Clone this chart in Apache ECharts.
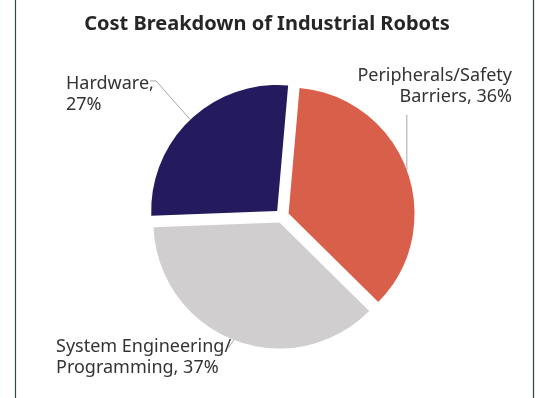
<!DOCTYPE html>
<html>
<head>
<meta charset="utf-8">
<script src="https://cdn.jsdelivr.net/npm/echarts@6/dist/echarts.min.js"></script>
<style>
  html, body { margin: 0; padding: 0; background: #fff; }
  #chart { width: 540px; height: 398px; }
</style>
</head>
<body>
<div id="chart"></div>
<script>
// slices in drawing order, clockwise from the top
const categories = ['Peripherals/Safety\nBarriers', 'System Engineering/\nProgramming', 'Hardware'];
const shares = [36, 37, 27];
const colors = ['#d85f49', '#d0cecf', '#241b5e'];

const labelSize = 18;
const labelFont = labelSize + 'px "Noto Sans"';
// label block anchors (top edge)
const labelSpots = [
  {x: 512, y: 65, align: 'right'},
  {x: 56, y: 336, align: 'left'},
  {x: 66, y: 73, align: 'left'}
];

const measure = (function () {
  const ctx = document.createElement('canvas').getContext('2d');
  ctx.font = labelFont;
  return s => ctx.measureText(s).width;
})();

function labelText(i) {
  const name = categories[i];
  return name + (name.indexOf('\n') >= 0 ? ', ' : ',\n') + shares[i] + '%';
}

const chart = echarts.init(document.getElementById('chart'));

const labelTexts = categories.map((c, i) => ({
  type: 'text',
  x: labelSpots[i].x,
  y: labelSpots[i].y,
  z: 10,
  style: {
    text: labelText(i),
    align: labelSpots[i].align,
    verticalAlign: 'top',
    font: labelFont,
    lineHeight: 21,
    fill: '#333'
  }
}));

chart.setOption({
  animation: false,
  title: {
    text: 'Cost Breakdown of Industrial Robots',
    left: 262,
    top: 9,
    textAlign: 'center',
    textStyle: {
      fontFamily: 'Noto Sans',
      fontWeight: 'bold',
      fontSize: 20,
      color: '#262626'
    }
  },
  graphic: [
    {type: 'line', shape: {x1: 15.5, y1: 0, x2: 15.5, y2: 398}, style: {stroke: '#2b4a4a', lineWidth: 1.2}},
    {type: 'line', shape: {x1: 533.5, y1: 0, x2: 533.5, y2: 398}, style: {stroke: '#2b4a4a', lineWidth: 1.2}}
  ].concat(labelTexts),
  series: [
    {
      type: 'pie',
      center: [282, 216],
      radius: 126,
      startAngle: 85,
      clockwise: true,
      selectedMode: 'multiple',
      selectedOffset: 7,
      emphasis: {disabled: true},
      itemStyle: {borderWidth: 0},
      // the visible label text is drawn as graphic text above; the pie keeps its leader lines
      label: {
        show: true,
        position: 'outside',
        fontSize: 1,
        formatter: ' '
      },
      labelLine: {
        show: true,
        lineStyle: {color: '#a6a6a6', width: 1}
      },
      labelLayout: p => {
        const i = p.dataIndex;
        const s = labelSpots[i];
        const p1 = p.labelLinePoints ? p.labelLinePoints[0] : [0, 0];
        const firstLine = labelText(i).split('\n')[0];
        let pts;
        if (i === 0) {
          // straight up to just under the label
          pts = [p1, [p1[0], s.y + 52], [p1[0], s.y + 52]];
        } else if (i === 1) {
          const ex = s.x + measure(firstLine);
          pts = [p1, [ex, s.y + 5], [ex, s.y + 5]];
        } else {
          const ex = s.x + measure(firstLine);
          pts = [p1, [ex + 7, s.y + 13], [ex + 1, s.y + 13]];
        }
        return {labelLinePoints: pts};
      },
      data: categories.map((name, i) => ({
        name: name,
        value: shares[i],
        selected: true,
        itemStyle: {color: colors[i]}
      }))
    }
  ]
});
</script>
</body>
</html>
